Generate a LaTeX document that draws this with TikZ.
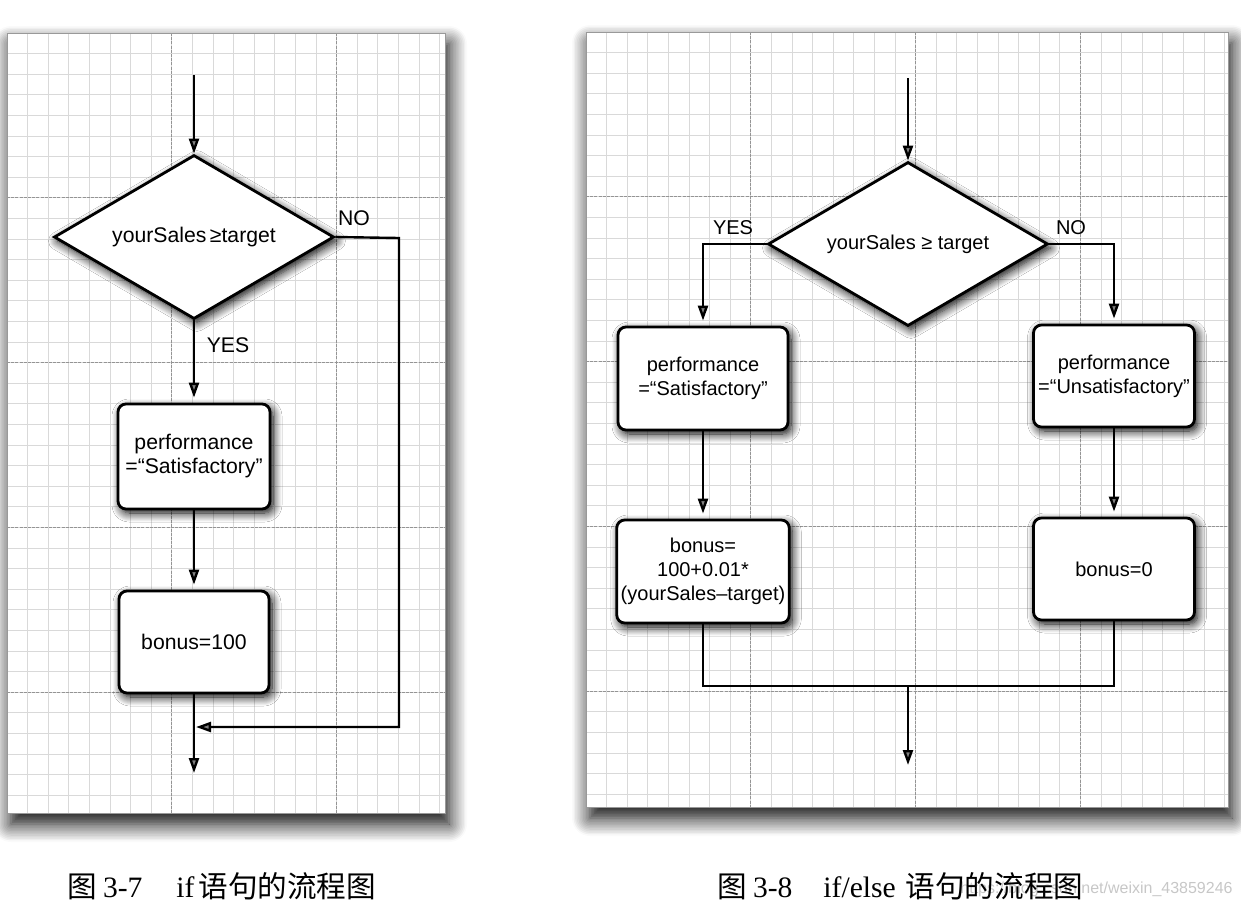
\documentclass[tikz,border=0pt]{standalone}
\usepackage{fontspec}
\setmainfont{Liberation Sans}
\newfontfamily\capfont{Liberation Serif}
\newfontfamily\cjk{Noto Sans CJK SC}
\usetikzlibrary{shapes.geometric,arrows.meta,shadows.blur}
\tikzset{
  panel/.style={fill=white,draw=black!35,line width=0.4pt,
    blur shadow={shadow xshift=2pt,shadow yshift=-5.5pt,shadow blur radius=9pt,shadow blur steps=12,shadow opacity=100}},
  minorline/.style={draw=black!15,line width=0.45pt},
  majorline/.style={draw=black!42,line width=0.6pt,dash pattern=on 1.5pt off 0.6pt},
  nodeshadow/.style={blur shadow={shadow xshift=1.5pt,shadow yshift=-2pt,shadow blur radius=4.5pt,shadow blur steps=10,shadow opacity=100}},
  decision/.style={diamond,draw,line width=1.4pt,fill=white,inner sep=0pt,shape aspect=1.7,
    minimum width=140pt,minimum height=82pt,nodeshadow},
  proc/.style={rectangle,rounded corners=4pt,draw,line width=1.4pt,fill=white,align=center,
    inner sep=2pt,nodeshadow},
  conn/.style={line width=1.2pt},
  arr/.style={conn,-{Triangle[length=7.5pt,width=5pt]}},
  lbl/.style={inner sep=0pt},
  lfont/.style={font=\fontsize{10.6pt}{12pt}\selectfont},
  rfont/.style={font=\fontsize{10pt}{11.9pt}\selectfont},
  capstyle/.style={anchor=base west,inner sep=0pt,font=\capfont\fontsize{14.8pt}{16pt}\selectfont},
}
\begin{document}
\begin{tikzpicture}[x=0.5pt,y=-0.5pt]
\useasboundingbox (0,0) rectangle (1241,911);
% ---------- left panel ----------
\path[panel] (7,33) rectangle (445,813);
\begin{scope}
  \clip (7,33) rectangle (445,813);
  \foreach \i in {0,...,22} \draw[minorline] ({7+20.6*\i},33) -- ++(0,780);
  \foreach \i in {0,...,38} \draw[minorline] (7,{33+20.6*\i}) -- ++(438,0);
  \foreach \i in {0,8,16} \draw[majorline] ({7+20.6*\i},33) -- ++(0,780);
  \foreach \i in {0,8,...,32} \draw[majorline] (7,{33+20.6*\i}) -- ++(438,0);
\end{scope}
\draw[black!40,line width=0.4pt] (7,33) rectangle (445,813);
% ---------- right panel ----------
\path[panel] (586,32) rectangle (1228,807);
\begin{scope}
  \clip (586,32) rectangle (1228,807);
  \foreach \i in {0,...,32} \draw[minorline] ({586+20.6*\i},32) -- ++(0,775);
  \foreach \i in {0,...,38} \draw[minorline] (586,{32+20.6*\i}) -- ++(642,0);
  \foreach \i in {0,8,16,24} \draw[majorline] ({586+20.6*\i},32) -- ++(0,775);
  \foreach \i in {0,8,...,32} \draw[majorline] (586,{32+20.6*\i}) -- ++(642,0);
\end{scope}
\draw[black!40,line width=0.4pt] (586,32) rectangle (1228,807);

% ---------- left flowchart ----------
\coordinate (Lstart) at (194,75);
\node[decision,lfont] (Ld) at (194,237) {yourSales\,≥target};
\node[proc,lfont,minimum width=76pt,minimum height=52.5pt] (Lb1) at (194,456.5) {performance\\=“Satisfactory”};
\node[proc,lfont,minimum width=75pt,minimum height=51pt] (Lb2) at (194,642) {bonus=100};
\coordinate (Lend) at (194,773);
\coordinate (Lc1) at (399,238);
\coordinate (Lc2) at (399,727);
\coordinate (Ljoin) at (194,727);
\node[lbl,lfont] (Lno) at (354,218) {NO};
\node[lbl,lfont] (Lyes) at (228,345) {YES};
\draw[arr] (Lstart) -- (Ld.north);
\draw[arr,shorten >=2.5pt] (Ld.south) -- (Lb1.north);
\draw[arr,shorten >=2.5pt] (Lb1.south) -- (Lb2.north);
\draw[arr] (Lb2.south) -- (Lend);
\draw[arr,shorten >=1pt] (Ld.east) -- (Lc1) -- (Lc2) -- (Ljoin);

% ---------- right flowchart ----------
\coordinate (Rstart) at (908,78);
\node[decision,rfont] (Rd) at (908,244) {yourSales ≥ target};
\node[proc,rfont,minimum width=85pt,minimum height=51.5pt] (RL1) at (703,378.5) {performance\\=“Satisfactory”};
\node[proc,rfont,minimum width=84pt,minimum height=51.5pt] (RL2) at (703,571.5) {bonus=\\100+0.01*\\(yourSales–target)};
\node[proc,rfont,minimum width=80.5pt,minimum height=51pt] (RR1) at (1114,376) {performance\\=“Unsatisfactory”};
\node[proc,rfont,minimum width=80.5pt,minimum height=51pt] (RR2) at (1114,569) {bonus=0};
\coordinate (Rjoin) at (908,686);
\coordinate (Rend) at (908,765);
\node[lbl,rfont] (Ryes) at (733,228) {YES};
\node[lbl,rfont] (Rno) at (1071,228) {NO};
\draw[arr] (Rstart) -- (Rd.north);
\draw[arr,shorten >=2.5pt] (Rd.west) -| (RL1.north);
\draw[arr,shorten >=2.5pt] (Rd.east) -| (RR1.north);
\draw[arr,shorten >=2.5pt] (RL1.south) -- (RL2.north);
\draw[arr,shorten >=2.5pt] (RR1.south) -- (RR2.north);
\draw[conn] (RL2.south) |- (Rjoin) -| (RR2.south);
\draw[arr] (Rjoin) -- (Rend);

% ---------- captions ----------
\node[anchor=base east,inner sep=0pt,text=black!22,font=\fontsize{8pt}{9pt}\selectfont] (wm) at (1233,893) {https://blog.csdn.net/weixin\_43859246};
\node[capstyle] (cap1) at (67,897) {{\cjk 图}\hspace{3pt}3-7\hspace{17pt}if\hspace{2pt}{\cjk 语句的流程图}};
\node[capstyle] (cap2) at (717,897) {{\cjk 图}\hspace{3pt}3-8\hspace{15.5pt}if/else\hspace{5pt}{\cjk 语句的流程图}};
\end{tikzpicture}
\end{document}
